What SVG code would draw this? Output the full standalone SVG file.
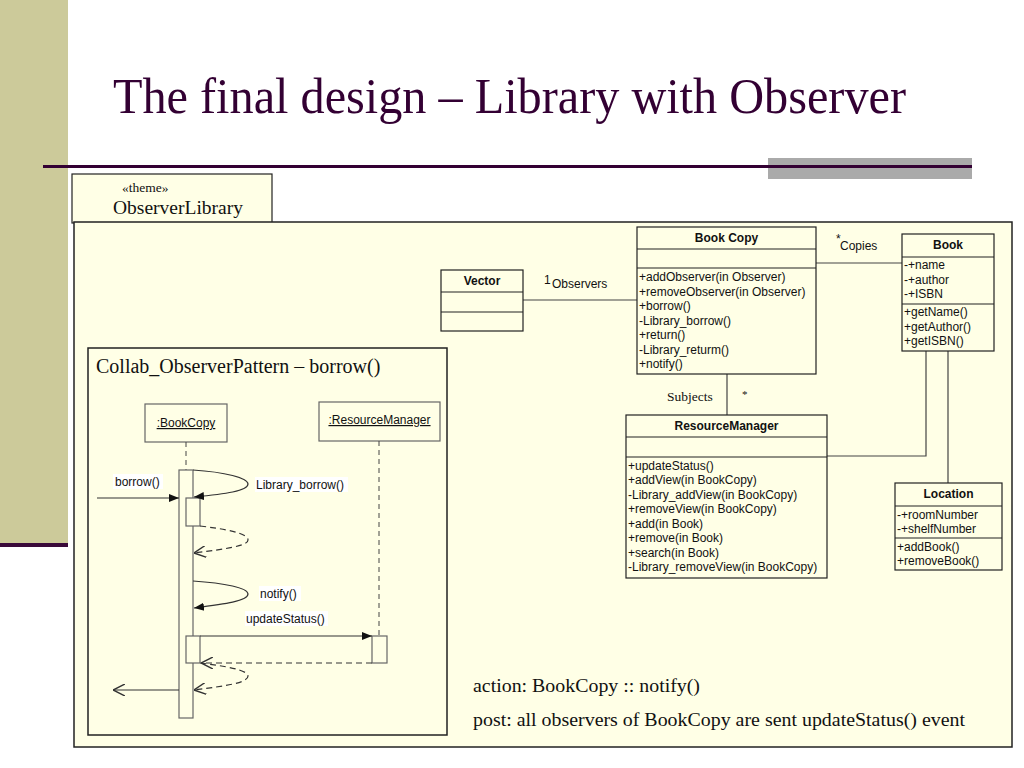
<svg xmlns="http://www.w3.org/2000/svg" width="1024" height="768" viewBox="0 0 1024 768">
<style>
.serif{font-family:"Liberation Serif","Times New Roman",serif;fill:#111}
.sans{font-family:"Liberation Sans",Arial,sans-serif;fill:#111;font-size:12px}
.bold{font-weight:bold;font-size:12px}
.cls{fill:#FFFFE6;stroke:#222;stroke-width:1.2}
.sep{stroke:#222;stroke-width:1.2}
.seqbox{fill:#FFFFE6;stroke:#666;stroke-width:1.2}
.life{stroke:#444;stroke-width:1;stroke-dasharray:5 4;fill:none}
.msg{stroke:#333;stroke-width:1.2;fill:none}
.ret{stroke:#333;stroke-width:1.2;fill:none;stroke-dasharray:6 4}
.assoc{stroke:#444;stroke-width:1.2;fill:none}
.lbl{fill:#fff}
</style>
<defs>
<marker id="filled" viewBox="0 0 10 10" refX="10" refY="5" markerWidth="10" markerHeight="10" markerUnits="userSpaceOnUse" orient="auto">
<path d="M0,1 L10,5 L0,9 z" fill="#111"/>
</marker>
<marker id="open" viewBox="0 0 10 10" refX="10" refY="5" markerWidth="12" markerHeight="12" markerUnits="userSpaceOnUse" orient="auto">
<path d="M0,0 L10,5 L0,10" fill="none" stroke="#333" stroke-width="1.2"/>
</marker>
</defs>
<rect width="1024" height="768" fill="#fff"/>
<g id="decor">
<rect x="0" y="0" width="68" height="543" fill="#CCCA9A"/>
<rect x="0" y="543" width="68" height="4" fill="#3A0A3A"/>
<rect x="768" y="158" width="204" height="21" fill="#AAAAAA"/>
<rect x="43" y="165" width="929" height="3" fill="#330033"/>
<text x="113" y="113" class="serif" font-size="51" style="fill:#330033" textLength="793" lengthAdjust="spacingAndGlyphs">The final design – Library with Observer</text>
</g>
<g id="theme">
<rect x="72" y="174" width="200" height="49" fill="#FFFFE6" stroke="#222" stroke-width="1.2"/>
<text x="122" y="192" class="serif" font-size="13.5">«theme»</text>
<text x="113" y="214" class="serif" font-size="19.5">ObserverLibrary</text>
<rect x="74" y="222" width="938" height="525" fill="#FFFFE6" stroke="#222" stroke-width="1.5"/>
</g>
<g id="connectors">
<line x1="523" y1="300" x2="637" y2="300" class="assoc"/>
<line x1="816" y1="263" x2="902" y2="263" class="assoc"/>
<line x1="727" y1="374" x2="727" y2="415" class="assoc"/>
<polyline points="827,456 926,456 926,351" class="assoc"/>
<line x1="948" y1="351" x2="948" y2="483" class="assoc"/>
</g>
<g id="assoc-labels">
<text x="544" y="284" class="sans" font-size="11">1</text>
<text x="552" y="288" class="sans">Observers</text>
<text x="836" y="243" class="sans" font-size="10">*</text>
<text x="840" y="250" class="sans">Copies</text>
<text x="667" y="401" class="serif" font-size="13.5">Subjects</text>
<text x="742" y="398" class="serif" font-size="11">*</text>
</g>
<g id="vector">
<rect x="441" y="270" width="82" height="61" class="cls"/>
<line x1="441" y1="292" x2="523" y2="292" class="sep"/>
<line x1="441" y1="312" x2="523" y2="312" class="sep"/>
<text x="482" y="285" class="sans bold" text-anchor="middle">Vector</text>
</g>
<g id="bookcopy">
<rect x="637" y="227" width="179" height="147" class="cls"/>
<line x1="637" y1="249" x2="816" y2="249" class="sep"/>
<line x1="637" y1="268" x2="816" y2="268" class="sep"/>
<text x="726.5" y="242" class="sans bold" text-anchor="middle">Book Copy</text>
<text x="639" y="281" class="sans">+addObserver(in Observer)</text>
<text x="639" y="295.5" class="sans">+removeObserver(in Observer)</text>
<text x="639" y="310" class="sans">+borrow()</text>
<text x="639" y="324.5" class="sans">-Library_borrow()</text>
<text x="639" y="339" class="sans">+return()</text>
<text x="639" y="353.5" class="sans">-Library_returm()</text>
<text x="639" y="368" class="sans">+notify()</text>
</g>
<g id="book">
<rect x="902" y="234" width="92" height="117" class="cls"/>
<line x1="902" y1="257" x2="994" y2="257" class="sep"/>
<line x1="902" y1="304" x2="994" y2="304" class="sep"/>
<text x="948" y="249" class="sans bold" text-anchor="middle">Book</text>
<text x="904" y="269" class="sans">-+name</text>
<text x="904" y="283.5" class="sans">-+author</text>
<text x="904" y="298" class="sans">-+ISBN</text>
<text x="904" y="316" class="sans">+getName()</text>
<text x="904" y="330.5" class="sans">+getAuthor()</text>
<text x="904" y="345" class="sans">+getISBN()</text>
</g>
<g id="resourcemanager">
<rect x="626" y="415" width="201" height="163" class="cls"/>
<line x1="626" y1="437" x2="827" y2="437" class="sep"/>
<line x1="626" y1="457" x2="827" y2="457" class="sep"/>
<text x="726.5" y="430" class="sans bold" text-anchor="middle">ResourceManager</text>
<text x="628" y="469.5" class="sans">+updateStatus()</text>
<text x="628" y="484" class="sans">+addView(in BookCopy)</text>
<text x="628" y="498.5" class="sans">-Library_addView(in BookCopy)</text>
<text x="628" y="513" class="sans">+removeView(in BookCopy)</text>
<text x="628" y="527.5" class="sans">+add(in Book)</text>
<text x="628" y="542" class="sans">+remove(in Book)</text>
<text x="628" y="556.5" class="sans">+search(in Book)</text>
<text x="628" y="571" class="sans">-Library_removeView(in BookCopy)</text>
</g>
<g id="location">
<rect x="895" y="483" width="107" height="87" class="cls"/>
<line x1="895" y1="506" x2="1002" y2="506" class="sep"/>
<line x1="895" y1="538" x2="1002" y2="538" class="sep"/>
<text x="948.5" y="498" class="sans bold" text-anchor="middle">Location</text>
<text x="897" y="518.5" class="sans">-+roomNumber</text>
<text x="897" y="533" class="sans">-+shelfNumber</text>
<text x="897" y="550.5" class="sans">+addBook()</text>
<text x="897" y="565" class="sans">+removeBook()</text>
</g>
<g id="collab-frame">
<rect x="88" y="348" width="359" height="387" fill="#FFFFE6" stroke="#222" stroke-width="1.5"/>
<text x="96" y="373" class="serif" font-size="20">Collab_ObserverPattern – borrow()</text>
</g>
<g id="seq-bookcopy">
<rect x="145" y="404" width="82" height="38" class="seqbox"/>
<text x="186" y="427" class="sans" text-anchor="middle" text-decoration="underline">:BookCopy</text>
<line x1="186" y1="442" x2="186" y2="470" class="life"/>
<rect x="179" y="470" width="14" height="248" class="seqbox"/>
<rect x="186" y="498" width="14" height="28" class="seqbox"/>
<rect x="186" y="636" width="14" height="27" class="seqbox"/>
</g>
<g id="seq-resourcemanager">
<rect x="319" y="402" width="121" height="39" class="seqbox"/>
<text x="379.5" y="424" class="sans" text-anchor="middle" text-decoration="underline">:ResourceManager</text>
<line x1="379" y1="441" x2="379" y2="636" class="life"/>
<rect x="372" y="636" width="15" height="27" class="seqbox"/>
</g>
<g id="seq-messages">
<line x1="97" y1="498" x2="179" y2="498" class="msg" marker-end="url(#filled)"/>
<path d="M193,470 C225,472 248,478 248,484 C248,491 225,494 194,497" class="msg" marker-end="url(#filled)"/>
<path d="M200,526 C225,529 248,533 248,540 C248,546 225,549 194,553" class="ret" marker-end="url(#open)"/>
<path d="M193,581 C225,583 248,588 248,594 C248,601 225,604 194,608" class="msg" marker-end="url(#filled)"/>
<line x1="200" y1="636" x2="372" y2="636" class="msg" marker-end="url(#filled)"/>
<line x1="372" y1="663" x2="201" y2="663" class="ret" marker-end="url(#open)"/>
<path d="M200,663 C225,666 248,670 248,676 C248,683 225,686 194,690" class="ret" marker-end="url(#open)"/>
<line x1="179" y1="690" x2="113" y2="690" class="msg" marker-end="url(#open)"/>
</g>
<g id="seq-labels">
<rect x="113" y="474" width="50" height="15" class="lbl"/>
<text x="115" y="486" class="sans">borrow()</text>
<rect x="255" y="477" width="93" height="15" class="lbl"/>
<text x="256" y="489" class="sans">Library_borrow()</text>
<rect x="259" y="586" width="42" height="15" class="lbl"/>
<text x="260" y="598" class="sans">notify()</text>
<rect x="245" y="611" width="83" height="15" class="lbl"/>
<text x="246" y="623" class="sans">updateStatus()</text>
</g>
<g id="notes">
<text x="473" y="692" class="serif" font-size="18" textLength="227" lengthAdjust="spacingAndGlyphs">action: BookCopy :: notify()</text>
<text x="473" y="726" class="serif" font-size="18" textLength="492" lengthAdjust="spacingAndGlyphs">post: all observers of BookCopy are sent updateStatus() event</text>
</g>
</svg>
